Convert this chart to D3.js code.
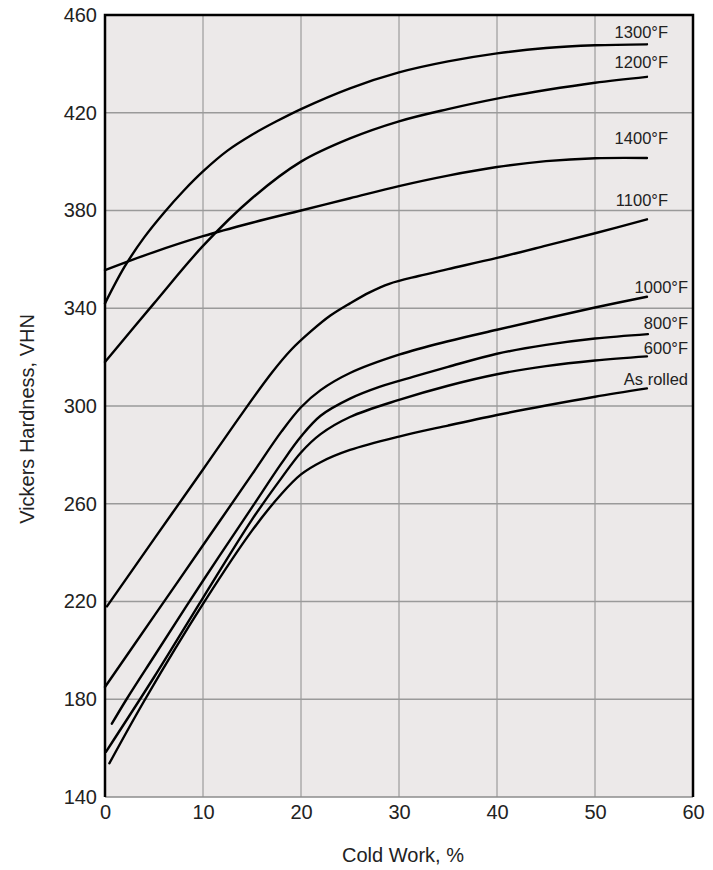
<!DOCTYPE html>
<html>
<head>
<meta charset="utf-8">
<script src="https://cdn.jsdelivr.net/npm/d3@7"></script>
<style>
  html, body { margin: 0; padding: 0; background: #ffffff; }
  svg { display: block; }
  text { font-family: "Liberation Sans", Arial, sans-serif; fill: #222; }
</style>
</head>
<body>
<svg id="chart" width="713" height="870"></svg>
<script>
// ---- data ----
const xTicks = [0, 10, 20, 30, 40, 50, 60];
const yTicks = [140, 180, 220, 260, 300, 340, 380, 420, 460];

const seriesNames = ["1300°F", "1200°F", "1400°F", "1100°F", "1000°F", "800°F", "600°F", "As rolled"];

const s1300 = [[0,342],[2,357],[4,369],[6,379],[8,388],[10,396],[12.5,404.5],[15,411],[17.5,416.5],[20,421.5],[25,430],[30,436.5],[35,441],[40,444.3],[45,446.5],[50,447.6],[55.3,448]];
const s1200 = [[0,318],[5,342],[10,365.5],[15,385],[20,400],[25,409.5],[30,416.5],[35,421.5],[40,425.8],[45,429.3],[50,432.3],[55.3,434.7]];
const s1400 = [[0,355.6],[5,363],[10,369.5],[15,375],[20,380],[25,385],[30,390],[35,394.3],[40,397.8],[45,400.2],[50,401.4],[55.3,401.5]];
const s1100 = [[0.2,218],[5,245.5],[10,274],[14,297],[17,313.5],[19,323],[21,330.5],[23,337],[25,342],[27,346.5],[29,350],[32,353.2],[35,356],[40,360.6],[45,365.6],[50,370.7],[55.3,376.4]];
const s1000 = [[0,185],[5,214],[10,243],[15,272],[18,289.5],[20,299.5],[22,306.5],[25,313.5],[30,321],[35,326.5],[40,331.2],[45,335.8],[50,340.3],[55.3,344.7]];
const s800  = [[0.7,170],[2.2,180],[5,197.5],[10,228.5],[15,258.5],[18,276.5],[20,287.5],[22,296],[25,303],[28,307.8],[31.5,312],[35,316],[40,321.4],[45,325],[50,327.6],[55.4,329.4]];
const s600  = [[0.1,158.5],[5,189],[10,221.5],[15,253.5],[18,270.5],[20,281],[22,288.5],[25,295.5],[30,302.5],[35,308.3],[40,313],[45,316.3],[50,318.6],[55.3,320.3]];
const sRolled = [[0.45,153.8],[4.1,180],[10,219],[15,249],[18,264],[20,272],[22,277],[25,282],[30,287.5],[35,292],[40,296.3],[45,300.2],[50,303.8],[55.3,307.2]];

const seriesData = [s1300, s1200, s1400, s1100, s1000, s800, s600, sRolled];

// ---- layout ----
const labelX = [668, 668, 668, 668, 688, 688, 688, 688];
const labelY = [38, 68, 144, 206, 293, 329, 354, 385];

const svg = d3.select("#chart");
const pL = 105, pR = 693, pT = 15, pB = 797;

const x = d3.scaleLinear().domain([0, 60]).range([pL, pR]);
const y = d3.scaleLinear().domain([140, 460]).range([pB, pT]);

// plot background
svg.append("rect")
  .attr("x", pL).attr("y", pT)
  .attr("width", pR - pL).attr("height", pB - pT)
  .attr("fill", "#ece9e9");

// grid
svg.append("g").selectAll("line")
  .data(xTicks.filter(d => d > 0 && d < 60))
  .join("line")
  .attr("x1", d => x(d)).attr("x2", d => x(d))
  .attr("y1", pT).attr("y2", pB)
  .attr("stroke", "#8c8c8c").attr("stroke-width", 1);

svg.append("g").selectAll("line")
  .data(yTicks.filter(d => d > 140 && d < 460))
  .join("line")
  .attr("x1", pL).attr("x2", pR)
  .attr("y1", d => y(d)).attr("y2", d => y(d))
  .attr("stroke", "#9a9a9a").attr("stroke-width", 1.5);

// bottom edge (grey)
svg.append("line")
  .attr("x1", pL).attr("x2", pR)
  .attr("y1", pB).attr("y2", pB)
  .attr("stroke", "#8c8c8c").attr("stroke-width", 1.5);

// frame: top, left, right black
svg.append("path")
  .attr("d", `M${pL},${pB}L${pL},${pT}L${pR},${pT}L${pR},${pB}`)
  .attr("fill", "none").attr("stroke", "#000").attr("stroke-width", 2.5);

// curves
const line = d3.line()
  .x(d => x(d[0])).y(d => y(d[1]))
  .curve(d3.curveCatmullRom.alpha(0.5));

svg.append("g").selectAll("path")
  .data(seriesData)
  .join("path")
  .attr("d", d => line(d))
  .attr("fill", "none")
  .attr("stroke", "#000")
  .attr("stroke-width", 2.4)
  .attr("stroke-linecap", "round");

// curve labels
svg.append("g").selectAll("text")
  .data(seriesNames)
  .join("text")
  .attr("x", (d, i) => labelX[i])
  .attr("y", (d, i) => labelY[i])
  .attr("text-anchor", "end")
  .attr("font-size", 16.5)
  .text(d => d);

// axes
const yAxis = d3.axisLeft(y).tickValues(yTicks).tickSize(0).tickPadding(8);
const gy = svg.append("g").attr("transform", `translate(${pL},0)`).call(yAxis);
gy.select(".domain").remove();
gy.selectAll("text").attr("font-size", 20).style("font-family", "'Liberation Sans', Arial, sans-serif").attr("fill", "#222");

const xAxis = d3.axisBottom(x).tickValues(xTicks).tickSize(0).tickPadding(8);
const gx = svg.append("g").attr("transform", `translate(0,${pB})`).call(xAxis);
gx.select(".domain").remove();
gx.selectAll("text").attr("font-size", 20).style("font-family", "'Liberation Sans', Arial, sans-serif").attr("fill", "#222");

// axis titles
svg.append("text")
  .attr("x", (pL + pR) / 2 + 4).attr("y", 862)
  .attr("text-anchor", "middle")
  .attr("font-size", 20)
  .text("Cold Work, %");

svg.append("text")
  .attr("transform", `translate(34,${(pT + pB) / 2 + 13}) rotate(-90)`)
  .attr("text-anchor", "middle")
  .attr("font-size", 20)
  .text("Vickers Hardness, VHN");
</script>
</body>
</html>
